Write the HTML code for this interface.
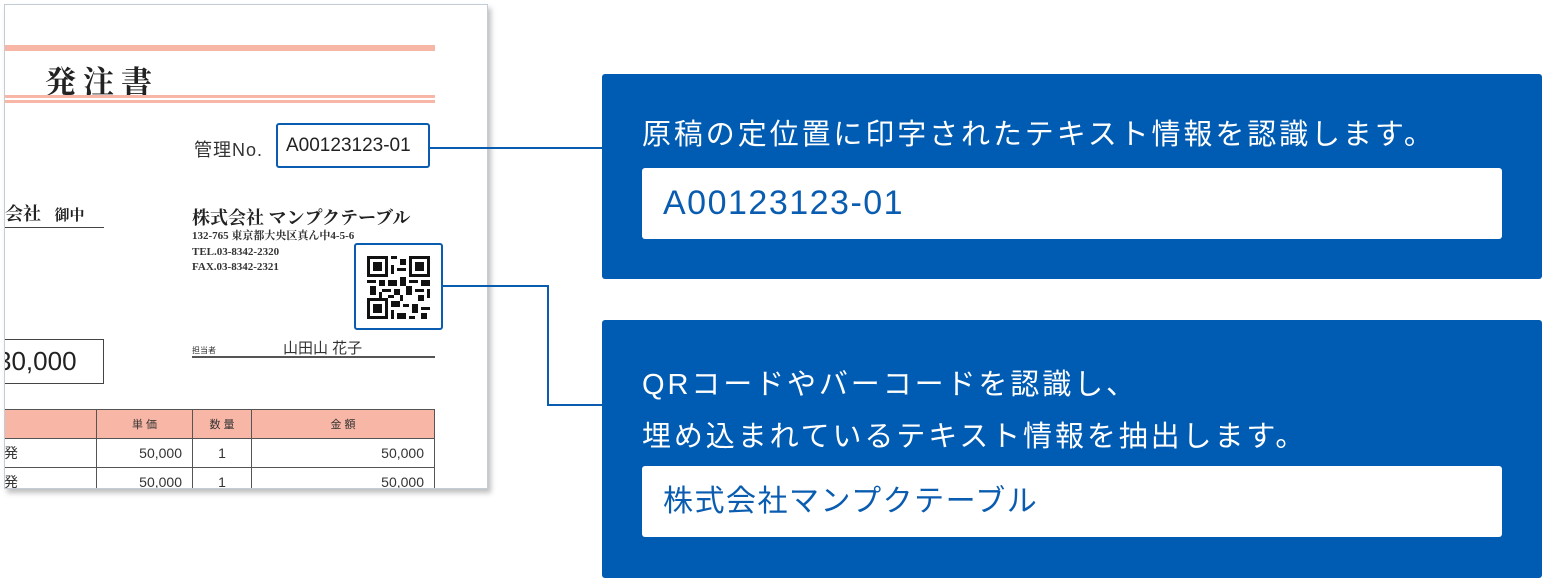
<!DOCTYPE html>
<html><head><meta charset="utf-8"><style>
*{margin:0;padding:0;box-sizing:border-box}
body{width:1542px;height:578px;background:#fff;position:relative;overflow:hidden;font-family:"Liberation Sans","Noto Sans CJK JP",sans-serif}
.a{position:absolute}
.serif{font-family:"Liberation Serif","Noto Serif CJK SC",serif}
.panel{position:absolute;left:602px;width:940px;background:#005bb2;border-radius:3px}
.pt{position:absolute;left:40px;color:#fff;font-size:29px;letter-spacing:2.9px;white-space:nowrap}
.wb{position:absolute;left:40px;width:860px;height:71px;background:#fff;border-radius:3px;color:#0a5cb0;font-size:34px;letter-spacing:1.5px;padding-left:21px;line-height:71px}
td{border:1px solid #555;font-size:14px;height:29px}
</style></head><body>
<!-- paper -->
<div class="a" style="left:4px;top:4px;width:484px;height:485px;background:#fff;border:1px solid #c4ccd8;box-shadow:3px 4px 5px rgba(0,0,0,0.25);overflow:hidden">
 <div class="a" style="left:0;top:40px;width:430px;height:6px;background:#f8b6a6"></div>
 <div class="a serif" style="left:40px;top:52px;font-size:31px;font-weight:bold;letter-spacing:7px;color:#222">発注書</div>
 <div class="a" style="left:0;top:90px;width:430px;height:3px;background:#f8b6a6"></div>
 <div class="a" style="left:0;top:95px;width:430px;height:3px;background:#f8b6a6"></div>
 <div class="a" style="left:189px;top:131px;font-size:18px;letter-spacing:1px;color:#333">管理No.</div>
 <div class="a serif" style="left:0;top:195px;font-size:18px;font-weight:bold;color:#222">会社 &nbsp; <span style="font-size:15px">御中</span></div>
 <div class="a" style="left:0;top:222px;width:99px;height:1px;background:#444"></div>
 <div class="a serif" style="left:187px;top:199px;font-size:18px;font-weight:bold;color:#222">株式会社 マンプクテーブル</div>
 <div class="a serif" style="left:187px;top:224px;font-size:11px;line-height:15.5px;font-weight:bold;color:#333">132-765 東京都大央区真ん中4-5-6<br>TEL.03-8342-2320<br>FAX.03-8342-2321</div>
 <div class="a" style="left:-1px;top:334px;width:100px;height:45px;border:1px solid #444;font-size:26px;line-height:43px;color:#222;text-indent:-8px">30,000</div>
 <div class="a" style="left:187px;top:340px;font-size:8px;color:#333">担当者</div>
 <div class="a" style="left:278px;top:332px;font-size:15px;color:#333">山田山 花子</div>
 <div class="a" style="left:187px;top:351px;width:243px;height:2px;background:#555"></div>
 <table class="a" style="left:-2px;top:404px;width:432px;border-collapse:collapse;color:#333">
  <tr style="background:#f8b6a6;font-size:12px;text-align:center"><td style="width:93px"></td><td style="width:96px;font-size:11px">単 価</td><td style="width:59px;font-size:11px">数 量</td><td style="font-size:11px">金 額</td></tr>
  <tr><td>発</td><td style="text-align:right;padding-right:10px">50,000</td><td style="text-align:center">1</td><td style="text-align:right;padding-right:10px">50,000</td></tr>
  <tr><td>発</td><td style="text-align:right;padding-right:10px">50,000</td><td style="text-align:center">1</td><td style="text-align:right;padding-right:10px">50,000</td></tr>
 </table>
</div>
<!-- highlight boxes -->
<div class="a" style="left:276px;top:123px;width:154px;height:45px;border:2px solid #0a5cb0;border-radius:3px;font-size:19px;line-height:41px;padding-left:8px;color:#222">A00123123-01</div>
<div class="a" style="left:354px;top:243px;width:89px;height:87px;border:2px solid #0a5cb0;border-radius:3px;background:#fff"></div>
<svg class="a" style="left:367px;top:256px" width="63" height="63" viewBox="0 0 21 21">
<g fill="#111">
<path d="M0 0h7v7h-7zM1 1v5h5v-5zM2 2h3v3h-3z" fill-rule="evenodd"/>
<path d="M14 0h7v7h-7zM15 1v5h5v-5zM16 2h3v3h-3z" fill-rule="evenodd"/>
<path d="M0 14h7v7h-7zM1 15v5h5v-5zM2 16h3v3h-3z" fill-rule="evenodd"/>
<rect x="8" y="0" width="2" height="1"/><rect x="11" y="1" width="2" height="2"/><rect x="8" y="3" width="1" height="3"/><rect x="10" y="4" width="3" height="1"/>
<rect x="0" y="8" width="3" height="1"/><rect x="4" y="8" width="2" height="2"/><rect x="7" y="8" width="3" height="2"/><rect x="11" y="7" width="2" height="3"/><rect x="14" y="8" width="3" height="1"/><rect x="18" y="8" width="3" height="2"/>
<rect x="1" y="10" width="2" height="3"/><rect x="5" y="11" width="3" height="1"/><rect x="9" y="11" width="2" height="2"/><rect x="13" y="10" width="2" height="3"/><rect x="16" y="11" width="3" height="1"/><rect x="20" y="11" width="1" height="3"/>
<rect x="4" y="12" width="1" height="2"/><rect x="7" y="13" width="2" height="1"/><rect x="11" y="13" width="1" height="2"/><rect x="17" y="13" width="2" height="2"/>
<rect x="8" y="15" width="3" height="2"/><rect x="12" y="16" width="2" height="1"/><rect x="15" y="16" width="2" height="3"/><rect x="18" y="17" width="3" height="1"/>
<rect x="8" y="18" width="1" height="3"/><rect x="10" y="19" width="3" height="2"/><rect x="14" y="20" width="2" height="1"/><rect x="18" y="19" width="2" height="2"/>
</g></svg>
<!-- connectors -->
<svg class="a" style="left:0;top:0" width="1542" height="578">
<path d="M430 148H602" stroke="#0a5cb0" stroke-width="2" fill="none"/>
<path d="M443 286H548V405H602" stroke="#0a5cb0" stroke-width="2" fill="none"/>
</svg>
<!-- panels -->
<div class="panel" style="top:74px;height:205px">
 <div class="pt" style="top:37px">原稿の定位置に印字されたテキスト情報を認識します。</div>
 <div class="wb" style="top:94px">A00123123-01</div>
</div>
<div class="panel" style="top:320px;height:258px">
 <div class="pt" style="top:39px;line-height:52px">QRコードやバーコードを認識し、<br>埋め込まれているテキスト情報を抽出します。</div>
 <div class="wb" style="top:146px;font-size:30px;letter-spacing:1.5px">株式会社マンプクテーブル</div>
</div>
</body></html>
